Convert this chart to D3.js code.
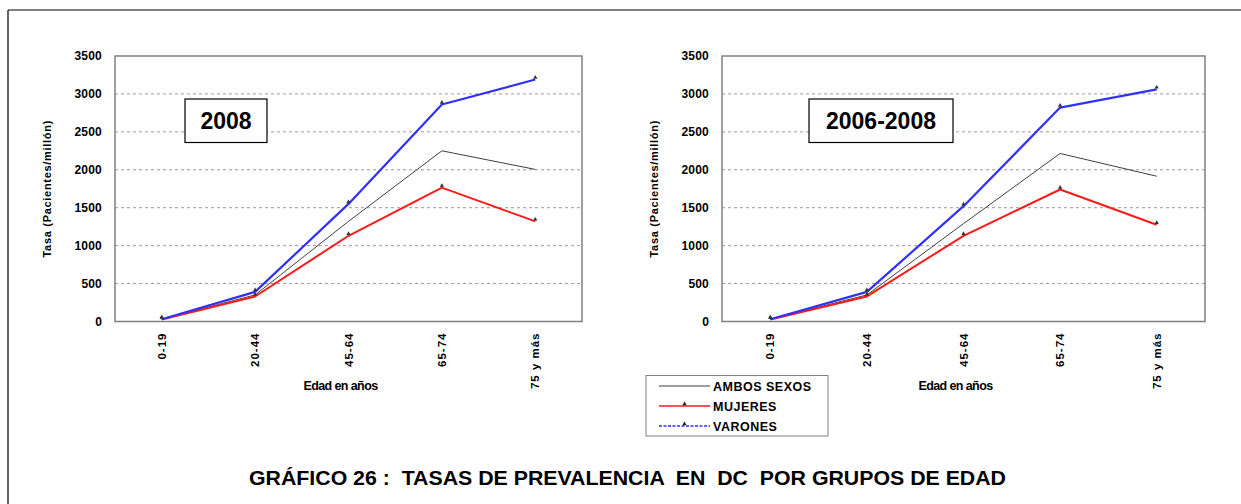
<!DOCTYPE html>
<html>
<head>
<meta charset="utf-8">
<script src="https://cdn.jsdelivr.net/npm/d3@7"></script>
<style>
  body { margin: 0; background: #fff; }
  text { font-family: "Liberation Sans", Arial, sans-serif; }
</style>
</head>
<body>
<svg width="1241" height="504"></svg>
<script>
const categories = ["0-19", "20-44", "45-64", "65-74", "75 y más"];
const yTicks = [0, 500, 1000, 1500, 2000, 2500, 3000, 3500];
const seriesNames = ["AMBOS SEXOS", "MUJERES", "VARONES"];

// 2008
const ambos2008 = [30, 350, 1320, 2250, 2005];
const mujeres2008 = [25, 330, 1130, 1765, 1320];
const varones2008 = [30, 390, 1550, 2860, 3190];
// 2006-2008
const ambos0608 = [30, 350, 1290, 2215, 1915];
const mujeres0608 = [25, 330, 1130, 1740, 1275];
const varones0608 = [30, 390, 1520, 2820, 3060];

const svg = d3.select("svg");
const width = +svg.attr("width");
const height = +svg.attr("height");

// outer frame (only top and left visible)
svg.append("line").attr("x1", 8).attr("y1", 10).attr("x2", width).attr("y2", 10).attr("stroke", "#000").attr("stroke-width", 1.2);
svg.append("line").attr("x1", 8).attr("y1", 10).attr("x2", 8).attr("y2", height).attr("stroke", "#000").attr("stroke-width", 1.2);

const styles = [
  { color: "#404040", width: 1, marker: false },
  { color: "#ff1a1a", width: 2, marker: true },
  { color: "#3030ff", width: 2.2, marker: true }
];

function drawChart(left, right, label, boxX, boxW, series) {
  const top = 56, bottom = 321.5;
  const g = svg.append("g");
  const x = d3.scaleBand().domain(categories).range([left, right]).padding(0);
  const y = d3.scaleLinear().domain([0, 3500]).range([bottom, top]);
  const cx = d => x(d) + x.bandwidth() / 2;

  // gridlines
  g.selectAll(".grid").data(yTicks.filter(t => t > 0 && t < 3500)).enter()
    .append("line")
    .attr("x1", left).attr("x2", right)
    .attr("y1", d => y(d)).attr("y2", d => y(d))
    .attr("stroke", "#9a9a9a").attr("stroke-width", 1).attr("stroke-dasharray", "3,3");

  g.append("rect").attr("x", left).attr("y", top).attr("width", right - left).attr("height", bottom - top)
    .attr("fill", "none").attr("stroke", "#808080").attr("stroke-width", 1.5);

  // y axis labels
  const yaxis = d3.axisLeft(y).tickValues(yTicks).tickFormat(d3.format("d")).tickSize(0).tickPadding(13);
  const ya = g.append("g").attr("transform", "translate(" + left + ",0)").call(yaxis);
  ya.select(".domain").remove();
  ya.selectAll("text").attr("font-size", 12).attr("font-weight", "bold").attr("fill", "#000")
    .attr("letter-spacing", "0.2px").style("font-family", "'Liberation Sans', Arial, sans-serif");

  // x axis labels (rotated)
  const xaxis = d3.axisBottom(x).tickSize(0).tickPadding(0);
  const xa = g.append("g").attr("transform", "translate(0," + bottom + ")").call(xaxis);
  xa.select(".domain").remove();
  xa.selectAll("text")
    .attr("transform", "rotate(-90)")
    .attr("x", -11).attr("y", 0).attr("dy", "0.35em")
    .attr("text-anchor", "end")
    .attr("font-size", 11.5).attr("font-weight", "bold").attr("fill", "#000")
    .attr("letter-spacing", "1px").style("font-family", "'Liberation Sans', Arial, sans-serif");

  // axis titles
  g.append("text").attr("transform", "translate(" + (left - 64) + "," + ((top + bottom) / 2) + ") rotate(-90)")
    .attr("text-anchor", "middle").attr("font-size", 11).attr("font-weight", "bold")
    .attr("letter-spacing", "0.7px").attr("fill", "#000")
    .text("Tasa (Pacientes/millón)");
  g.append("text").attr("x", (left + right) / 2 - 8).attr("y", 390)
    .attr("text-anchor", "middle").attr("font-size", 12.5).attr("font-weight", "bold")
    .attr("letter-spacing", "-0.6px").attr("fill", "#000")
    .text("Edad en años");

  // lines
  const line = d3.line().x((d, i) => cx(categories[i])).y(d => y(d));
  series.forEach((s, k) => {
    g.append("path").datum(s).attr("d", line)
      .attr("fill", "none").attr("stroke", styles[k].color).attr("stroke-width", styles[k].width)
      .attr("stroke-linejoin", "round");
  });
  series.forEach((s, k) => {
    if (!styles[k].marker) return;
    g.selectAll(null).data(s).enter().append("path")
      .attr("d", d3.symbol(d3.symbolTriangle, 8))
      .attr("transform", (d, i) => "translate(" + cx(categories[i]) + "," + (y(d) - 2) + ")")
      .attr("fill", "#333");
  });

  // year box
  g.append("rect").attr("x", boxX).attr("y", 99).attr("width", boxW).attr("height", 43.5)
    .attr("fill", "#fff").attr("stroke", "#000").attr("stroke-width", 1.2);
  g.append("text").attr("x", boxX + boxW / 2).attr("y", 128.5).attr("text-anchor", "middle")
    .attr("font-size", 23).attr("font-weight", "bold").attr("fill", "#000").text(label);
}

drawChart(115, 582, "2008", 185, 82, [ambos2008, mujeres2008, varones2008]);
drawChart(722, 1205, "2006-2008", 809, 144, [ambos0608, mujeres0608, varones0608]);

// legend
const lg = svg.append("g");
lg.append("rect").attr("x", 646).attr("y", 375.5).attr("width", 182).attr("height", 60.5)
  .attr("fill", "#fff").attr("stroke", "#808080").attr("stroke-width", 1);
const legendY = d3.scalePoint().domain(seriesNames).range([386, 426]);
seriesNames.forEach((n, k) => {
  const yy = legendY(n);
  lg.append("line").attr("x1", 659).attr("x2", 710).attr("y1", yy).attr("y2", yy)
    .attr("stroke", styles[k].color).attr("stroke-width", k === 0 ? 1 : 1.3)
    .attr("stroke-dasharray", k === 2 ? "3,1.5" : null);
  if (styles[k].marker) {
    lg.append("path").attr("d", d3.symbol(d3.symbolTriangle, 8))
      .attr("transform", "translate(684.5," + (yy - 2) + ")").attr("fill", "#222");
  }
  lg.append("text").attr("x", 713).attr("y", yy + 4.5).attr("font-size", 12.5).attr("font-weight", "bold")
    .attr("letter-spacing", "0.5px").attr("fill", "#000").text(n);
});

// main title
svg.append("text").attr("x", 249).attr("y", 485)
  .attr("font-size", 21).attr("font-weight", "bold").attr("fill", "#000")
  .attr("textLength", 757).attr("lengthAdjust", "spacingAndGlyphs")
  .style("white-space", "pre")
  .text("GRÁFICO 26 :  TASAS DE PREVALENCIA  EN  DC  POR GRUPOS DE EDAD");
</script>
</body>
</html>
